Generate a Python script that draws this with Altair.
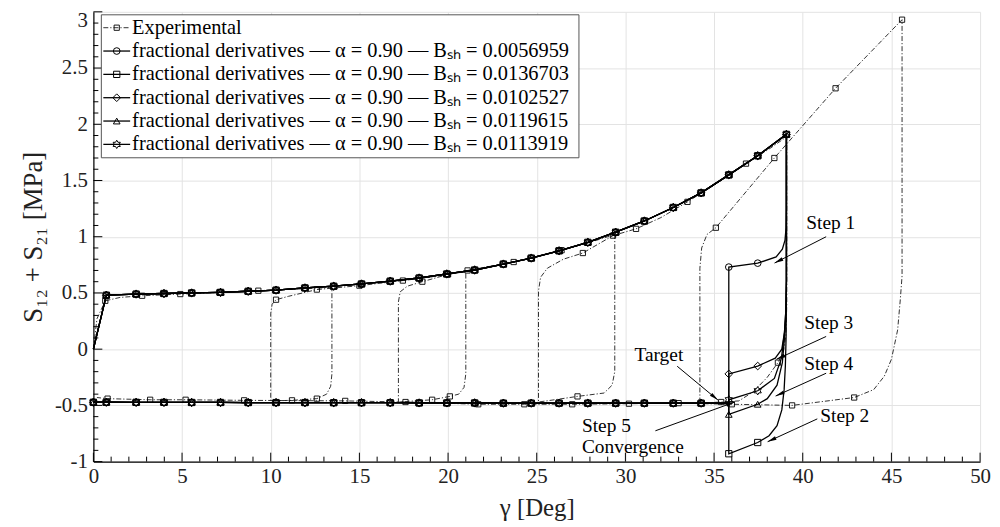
import math
import altair as alt
import pandas as pd

# ---------------- data ----------------
# common loading branch of the five fractional-derivative models (markers)
up_x = [0.73, 2.41, 3.98, 5.54, 7.17, 8.73, 10.30, 11.93, 13.55, 15.12, 16.74, 18.37, 19.93,
        21.50, 23.12, 24.69, 26.26, 27.88, 29.45, 31.07, 32.70, 34.27, 35.83, 37.46, 39.08]
up_y = [0.48, 0.49, 0.495, 0.50, 0.505, 0.515, 0.525, 0.545, 0.56, 0.58, 0.605, 0.633, 0.669,
        0.704, 0.757, 0.81, 0.875, 0.95, 1.04, 1.14, 1.26, 1.39, 1.55, 1.72, 1.91]
# common negative branch (markers), from right to left
low_x = [34.27, 32.70, 31.07, 29.45, 27.88, 26.26, 24.69, 23.12, 21.50, 19.93, 18.37, 16.74,
         15.12, 13.55, 11.93, 10.30, 8.73, 7.17, 5.54, 3.98, 2.41, 0.73, 0.00]
low_y = [-0.48, -0.48, -0.48, -0.48, -0.48, -0.48, -0.48, -0.48, -0.478, -0.478, -0.478, -0.476,
         -0.476, -0.476, -0.475, -0.475, -0.475, -0.474, -0.474, -0.473, -0.473, -0.472, -0.472]

# reversal branches of each model (after the peak at 39.08)
c_rev_x = [39.08, 39.06, 39.00, 38.85, 38.50, 37.46, 35.83]
c_rev_y = [1.25, 1.08, 0.97, 0.89, 0.82, 0.765, 0.73]
c_rev_m = [0, 0, 0, 0, 0, 1, 1]
s_rev_x = [39.08, 39.06, 39.02, 38.95, 38.82, 38.55, 38.10, 37.46, 35.83]
s_rev_y = [0.60, 0.10, -0.15, -0.36, -0.54, -0.68, -0.77, -0.83, -0.93]
s_rev_m = [0, 0, 0, 0, 0, 0, 0, 1, 1]
d_rev_x = [39.08, 39.05, 38.97, 38.82, 38.45, 37.46, 35.83]
d_rev_y = [0.62, 0.35, 0.15, 0.00, -0.08, -0.15, -0.22]
d_rev_m = [0, 0, 0, 0, 0, 1, 1]
t_rev_x = [39.08, 39.05, 38.97, 38.85, 38.55, 38.00, 37.46, 35.83]
t_rev_y = [0.60, 0.30, 0.10, -0.12, -0.32, -0.44, -0.49, -0.58]
t_rev_m = [0, 0, 0, 0, 0, 0, 1, 1]
h_rev_x = [39.08, 39.05, 38.97, 38.80, 38.40, 37.46, 35.83]
h_rev_y = [0.60, 0.35, 0.15, -0.08, -0.26, -0.37, -0.45]
h_rev_m = [0, 0, 0, 0, 0, 1, 1]

b_sh = ["0.0056959", "0.0136703", "0.0102527", "0.0119615", "0.0113919"]

# experimental cyclic curve (path order) and marker flags
exp_x = [0.00, 0.20, 0.67, 1.50, 2.75, 4.90, 7.10, 9.30, 11.60, 13.45,
         13.45, 13.38, 13.15, 12.60, 11.20, 10.00,
         10.00, 10.08, 10.30, 11.00, 12.60, 15.00, 17.45, 19.20, 21.00,
         21.00, 20.90, 20.60, 20.10, 19.10, 17.20,
         17.20, 17.30, 17.70, 18.55, 20.00, 21.10, 23.70, 26.40, 28.00, 29.40,
         29.40, 29.25, 28.80, 27.30, 26.00, 25.10,
         25.10, 25.22, 25.60, 26.50, 27.60, 29.30, 30.60, 32.00, 33.50, 35.20, 36.80, 38.20, 39.10,
         39.10, 39.05, 38.90, 38.60, 38.00, 37.20, 36.40, 35.40, 34.20,
         34.20, 34.30, 34.60, 35.10, 38.40, 41.85, 45.60,
         45.60, 45.50, 45.35, 45.00, 44.60, 44.00, 42.90, 39.40, 36.00, 33.00, 30.20, 27.00,
         24.30, 21.70, 17.60, 14.20, 8.50, 5.20, 3.20, 0.80, 0.20]
exp_y = [0.00, 0.27, 0.43, 0.46, 0.475, 0.49, 0.505, 0.52, 0.535, 0.55,
         -0.22, -0.33, -0.40, -0.44, -0.455, -0.46,
         0.32, 0.40, 0.44, 0.47, 0.53, 0.565, 0.61, 0.645, 0.69,
         -0.22, -0.34, -0.40, -0.42, -0.45, -0.47,
         0.42, 0.51, 0.56, 0.60, 0.665, 0.70, 0.775, 0.88, 0.95, 1.02,
         -0.20, -0.32, -0.39, -0.42, -0.45, -0.47,
         0.52, 0.64, 0.72, 0.80, 0.855, 1.01, 1.07, 1.17, 1.31, 1.48, 1.65, 1.79, 1.89,
         0.40, 0.12, -0.03, -0.12, -0.25, -0.38, -0.46, -0.47, -0.48,
         0.72, 0.90, 1.02, 1.08, 1.70, 2.32, 2.93,
         0.65, 0.44, 0.17, -0.09, -0.24, -0.36, -0.43, -0.50, -0.49, -0.48, -0.485, -0.49,
         -0.49, -0.49, -0.47, -0.46, -0.455, -0.45, -0.45, -0.44, -0.43]
exp_m = [0, 0, 1, 0, 1, 1, 1, 1, 0, 0,
         0, 0, 0, 1, 1, 0,
         0, 0, 1, 0, 1, 1, 1, 0, 0,
         0, 0, 0, 1, 1, 0,
         0, 0, 0, 1, 1, 1, 1, 1, 0, 0,
         0, 0, 0, 1, 0, 0,
         0, 0, 0, 0, 1, 1, 1, 0, 1, 0, 1, 0, 0,
         0, 0, 0, 1, 0, 0, 0, 1, 0,
         0, 0, 0, 1, 1, 1, 1,
         0, 0, 0, 0, 0, 0, 1, 1, 1, 1, 1, 1,
         1, 1, 1, 1, 1, 1, 1, 1, 0]

# annotations
ann_t = ["Step 1", "Step 3", "Step 4", "Step 2", "Target", "Step 5", "Convergence"]
ann_x = [40.20, 40.09, 40.09, 40.99, 30.51, 27.55, 27.55]
ann_y = [1.12, 0.236, -0.135, -0.594, -0.055, -0.682, -0.868]
arr_x1 = [41.32, 41.32, 41.32, 40.82, 32.92, 31.69]
arr_y1 = [1.00, 0.113, -0.214, -0.62, -0.152, -0.726]
arr_x2 = [38.41, 38.52, 38.47, 38.02, 35.22, 36.17]
arr_y2 = [0.766, -0.09, -0.417, -0.823, -0.453, -0.47]

legend_labels = ["Experimental"] + [
    "fractional derivatives \u2014 \u03b1 = 0.90 \u2014 B\u209b\u2095 = " + b for b in b_sh]

# ---------------- chart ----------------
W, H = 893, 453
XD, YD = [0, 50], [-1, 3]
SX = W / (XD[1] - XD[0])
SY = H / (YD[1] - YD[0])
FONT = "Liberation Serif, Times New Roman, serif"


def hexagram():
    pts = []
    for k in range(12):
        r = 1.0 if k % 2 == 0 else 0.58
        a = math.radians(-90 + 30 * k)
        pts.append(f"{r * math.cos(a):.3f},{r * math.sin(a):.3f}")
    return "M" + "L".join(pts) + "Z"


HEX = hexagram()
ARROW = "M0,0L-0.42,2L0.42,2Z"
shapes = ["circle", "square", "diamond", "triangle-up", HEX]
sizes = [45, 40, 60, 45, 70]

X_ENC = alt.X("x:Q", scale=alt.Scale(domain=XD, nice=False, zero=False),
              axis=alt.Axis(values=list(range(0, 51, 5)), title="\u03b3 [Deg]", labelFlush=False,
                            labelPadding=4, titlePadding=9))
Y_ENC = alt.Y("y:Q", scale=alt.Scale(domain=YD, nice=False, zero=False),
              axis=alt.Axis(values=[-1, -0.5, 0, 0.5, 1, 1.5, 2, 2.5, 3],
                            labelExpr="datum.value + ''", labelFlush=False,
                            labelOffset={"condition": {"test": "datum.value >= 3", "value": 9}, "value": 0},
                            title="S\u2081\u2082 + S\u2082\u2081 [MPa]", labelPadding=6, titlePadding=7,
                            titleFontSize=27))

revs = [(c_rev_x, c_rev_y, c_rev_m), (s_rev_x, s_rev_y, s_rev_m), (d_rev_x, d_rev_y, d_rev_m),
        (t_rev_x, t_rev_y, t_rev_m), (h_rev_x, h_rev_y, h_rev_m)]
rows = []
for k, (rx, ry, rm) in enumerate(revs):
    pts = [(0.0, 0.0, 0)]
    pts += [(a, b, 1) for a, b in zip(up_x, up_y)]
    pts += list(zip(rx, ry, rm))
    pts += [(rx[-1], low_y[0], 0)]
    pts += [(a, b, 1) for a, b in zip(low_x, low_y)]
    for i, (a, b, m) in enumerate(pts):
        rows.append(dict(s=k, i=i, x=a, y=b, m=m))
model = pd.DataFrame(rows)
exp = pd.DataFrame(dict(i=range(len(exp_x)), x=exp_x, y=exp_y, m=exp_m))

layers = []

# inward ticks
xt = pd.DataFrame(dict(x=list(range(0, 51))))
xt["major"] = xt["x"] % 5 == 0
yt = pd.DataFrame(dict(y=[round(-1 + 0.1 * k, 1) for k in range(41)]))
yt["major"] = [(round(v * 10) % 5 == 0) for v in yt["y"]]
layers.append(alt.Chart(xt[~xt.major]).mark_rule(color="black", strokeWidth=1).encode(
    x=X_ENC, y=alt.value(H), y2=alt.value(H - 5)))
layers.append(alt.Chart(xt[xt.major]).mark_rule(color="black", strokeWidth=1).encode(
    x=X_ENC, y=alt.value(H), y2=alt.value(H - 9)))
layers.append(alt.Chart(yt[~yt.major]).mark_rule(color="black", strokeWidth=1).encode(
    y=Y_ENC, x=alt.value(0), x2=alt.value(5)))
layers.append(alt.Chart(yt[yt.major]).mark_rule(color="black", strokeWidth=1).encode(
    y=Y_ENC, x=alt.value(0), x2=alt.value(9)))

# experimental
layers.append(alt.Chart(exp).mark_line(color="#1a1a1a", strokeWidth=0.9, strokeDash=[5, 2, 1.2, 2]).encode(
    x=X_ENC, y=Y_ENC, order="i:Q"))
layers.append(alt.Chart(exp[exp.m == 1]).mark_point(shape="square", size=28, filled=False, color="black",
                                                    strokeWidth=0.9, opacity=1).encode(x=X_ENC, y=Y_ENC))
# models
layers.append(alt.Chart(model).mark_line(color="black", strokeWidth=1.3).encode(
    x=X_ENC, y=Y_ENC, detail="s:N", order="i:Q"))
for k in range(5):
    d = model[(model.s == k) & (model.m == 1)]
    layers.append(alt.Chart(d).mark_point(shape=shapes[k], size=sizes[k], filled=False, color="black",
                                          strokeWidth=1, opacity=1).encode(x=X_ENC, y=Y_ENC))

# annotations
ann = pd.DataFrame(dict(x=ann_x, y=ann_y, t=ann_t))
layers.append(alt.Chart(ann).mark_text(align="left", baseline="middle", font=FONT, fontSize=19.5,
                                       color="black").encode(x=X_ENC, y=Y_ENC, text="t:N"))
arr = pd.DataFrame(dict(x=arr_x1, y=arr_y1, x2=arr_x2, y2=arr_y2))
layers.append(alt.Chart(arr).mark_rule(color="black", strokeWidth=1).encode(
    x=X_ENC, y=Y_ENC, x2="x2:Q", y2="y2:Q"))
ang = []
for a, b, c, e in zip(arr_x1, arr_y1, arr_x2, arr_y2):
    dx = (c - a) * SX
    dy = -(e - b) * SY
    ang.append(math.degrees(math.atan2(dx, -dy)) % 360)
heads = pd.DataFrame(dict(x=arr_x2, y=arr_y2, ang=ang))
layers.append(alt.Chart(heads).mark_point(shape=ARROW, size=81, filled=True, color="black", opacity=1,
                                          strokeWidth=0).encode(
    x=X_ENC, y=Y_ENC, angle=alt.Angle("ang:Q", scale=None)))

# legend box (inside plot, top-left)
one = pd.DataFrame(dict(a=[0]))
LX0, LX1, LY0, LY1 = 8, 489, 3, 147
layers.append(alt.Chart(one).mark_rect(fill="white", stroke="#555555", strokeWidth=1).encode(
    x=alt.value(LX0), x2=alt.value(LX1), y=alt.value(LY0), y2=alt.value(LY1)))
for r, lab in enumerate(legend_labels):
    yc = LY0 + 13 + 23.5 * r
    if r == 0:
        layers.append(alt.Chart(one).mark_rule(color="#1a1a1a", strokeWidth=0.9, strokeDash=[5, 2, 1.2, 2]).encode(
            x=alt.value(LX0 + 2), x2=alt.value(LX0 + 29), y=alt.value(yc)))
        layers.append(alt.Chart(one).mark_point(shape="square", size=28, filled=False, color="black",
                                                strokeWidth=0.9, opacity=1).encode(
            x=alt.value(LX0 + 15.5), y=alt.value(yc)))
    else:
        k = r - 1
        layers.append(alt.Chart(one).mark_rule(color="black", strokeWidth=1.3).encode(
            x=alt.value(LX0 + 2), x2=alt.value(LX0 + 29), y=alt.value(yc)))
        layers.append(alt.Chart(one).mark_point(shape=shapes[k], size=sizes[k], filled=False, color="black",
                                                strokeWidth=1, opacity=1).encode(
            x=alt.value(LX0 + 15.5), y=alt.value(yc)))
    layers.append(alt.Chart(pd.DataFrame(dict(t=[lab]))).mark_text(
        align="left", baseline="middle", font=FONT, fontSize=20.5, color="black").encode(
        x=alt.value(LX0 + 31), y=alt.value(yc), text="t:N"))

chart = alt.layer(*layers).properties(
    width=W, height=H,
    padding={"left": 86, "top": 2, "right": 12, "bottom": 64},
    autosize=alt.AutoSizeParams(type="none"),
).configure_axis(
    grid=True, gridColor="#e3e3e3", gridWidth=1,
    domainColor="black", domainWidth=1.2, ticks=False,
    labelFont=FONT, labelFontSize=21, labelColor="#222222",
    titleFont=FONT, titleFontSize=25, titleColor="#222222", titleFontWeight="normal",
).configure_view(stroke=None)

chart.save("out.html", embed_options={"renderer": "svg", "actions": False})
